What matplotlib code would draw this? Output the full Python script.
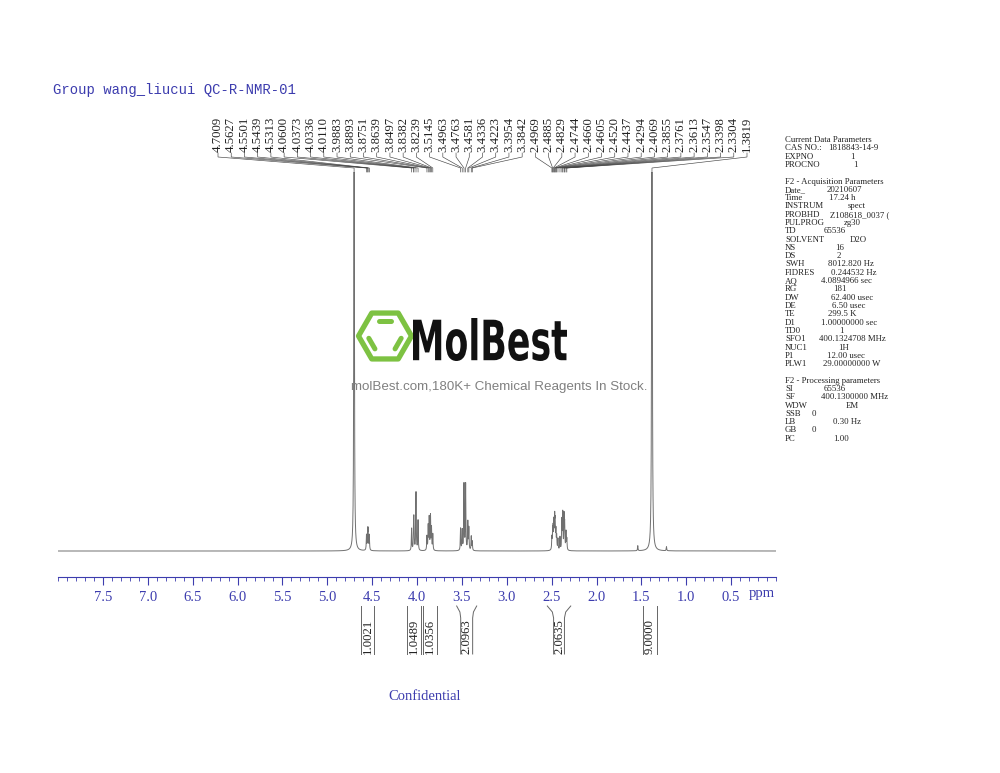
import numpy as np
import matplotlib
matplotlib.use('Agg')
import matplotlib.pyplot as plt
from matplotlib.ticker import MultipleLocator
from matplotlib.textpath import TextPath
from matplotlib.patches import PathPatch, Polygon
from matplotlib.font_manager import FontProperties
from matplotlib.transforms import Affine2D

#--------------------------#
# Data  #
#--------------------------#
peak_shifts = [4.7009, 4.5627, 4.5501, 4.5439, 4.5313, 4.0600, 4.0373, 4.0336,
               4.0110, 3.9883, 3.8893, 3.8751, 3.8639, 3.8497, 3.8382, 3.8239,
               3.5145, 3.4963, 3.4763, 3.4581, 3.4336, 3.4223, 3.3954, 3.3842,
               2.4969, 2.4885, 2.4829, 2.4744, 2.4660, 2.4605, 2.4520, 2.4437,
               2.4294, 2.4069, 2.3855, 2.3761, 2.3613, 2.3547, 2.3398, 2.3304,
               1.3819]
peak_heights = [700, 15, 19, 19, 15, 22, 24, 24,
                58, 30, 14, 24, 32, 34, 22, 16,
                22, 20, 66, 66, 28, 22, 14, 9,
                12, 17, 19, 26, 29, 24, 18, 13,
                11, 13, 29, 36, 33, 24, 18, 11,
                900]
extra_shifts = [1.54, 1.22]
extra_heights = [5, 4]

tick_values = [7.5, 7.0, 6.5, 6.0, 5.5, 5.0, 4.5, 4.0, 3.5, 3.0, 2.5, 2.0, 1.5, 1.0, 0.5]

int_left = [4.62, 4.115, 3.937, 3.558, 2.548, 1.482]
int_right = [4.476, 3.955, 3.780, 3.335, 2.287, 1.329]
int_pinch = [0.0, 0.0, 0.0, 0.045, 0.07, 0.0]
int_labels = ['1.0021', '1.0489', '1.0356', '2.0963', '2.0635', '9.0000']

param_names = ['Current Data Parameters', 'CAS NO.:', 'EXPNO', 'PROCNO', '',
               'F2 - Acquisition Parameters', 'Date_', 'Time', 'INSTRUM', 'PROBHD',
               'PULPROG', 'TD', 'SOLVENT', 'NS', 'DS', 'SWH', 'FIDRES', 'AQ', 'RG',
               'DW', 'DE', 'TE', 'D1', 'TD0', 'SFO1', 'NUC1', 'P1', 'PLW1', '',
               'F2 - Processing parameters', 'SI', 'SF', 'WDW', 'SSB', 'LB', 'GB', 'PC']
param_values = ['', '1818843-14-9', '1', '1', '',
                '', '20210607', '17.24 h', 'spect', 'Z108618_0037 (',
                'zg30', '65536', 'D2O', '16', '2', '8012.820 Hz', '0.244532 Hz',
                '4.0894966 sec', '181', '62.400 usec', '6.50 usec', '299.5 K',
                '1.00000000 sec', '1', '400.1324708 MHz', '1H', '12.00 usec',
                '29.00000000 W', '',
                '', '65536', '400.1300000 MHz', 'EM', '0', '0.30 Hz', '0', '1.00']
# left edge (pixels) of each value column entry
param_x = [0, 828, 850, 853, 0,
           0, 827, 829, 848, 830, 844, 824, 850, 835, 837, 828, 831, 821, 833,
           831, 832, 828, 821, 839, 819, 838, 827, 823, 0,
           0, 824, 821, 846, 812, 833, 812, 833]

BLUE = '#3c3cae'
W, H = 1000, 773

plt.rcParams['font.family'] = ['Liberation Serif', 'DejaVu Serif']

fig = plt.figure(figsize=(W / 100, H / 100), dpi=100)
fig.patch.set_facecolor('white')

# main spectrum axes: x 58..776 px, y 172..577 px
ax_top, ax_bot, base_y = 172, 577, 551
ax = fig.add_axes([58 / W, 1 - ax_bot / H, (776 - 58) / W, (ax_bot - ax_top) / H])
ax.patch.set_alpha(0)

ppm = np.linspace(0, 8, 24001)
gam = 0.003
spec = np.zeros_like(ppm)
for s, h in zip(peak_shifts + extra_shifts, peak_heights + extra_heights):
    spec += h * gam ** 2 / (gam ** 2 + (ppm - s) ** 2)
ax.plot(ppm, spec, color='#707070', lw=0.7)
ax.set_xlim(8.0, 0.0)
ax.set_ylim(-(ax_bot - base_y), base_y - ax_top)

for sp in ['top', 'left', 'right']:
    ax.spines[sp].set_visible(False)
ax.spines['bottom'].set_color(BLUE)
ax.spines['bottom'].set_linewidth(0.8)
ax.set_yticks([])
ax.set_xticks(tick_values)
ax.set_xticklabels(['%.1f' % t for t in tick_values])
ax.xaxis.set_minor_locator(MultipleLocator(0.1))
ax.tick_params(axis='x', which='major', direction='out', length=6, width=0.8,
               color=BLUE, labelcolor=BLUE, labelsize=10.5, pad=4)
ax.tick_params(axis='x', which='minor', direction='out', length=3, width=0.6, color=BLUE)

# overlay axes in pixel coordinates
ov = fig.add_axes([0, 0, 1, 1])
ov.set_xlim(0, W)
ov.set_ylim(H, 0)
ov.axis('off')
ov.patch.set_alpha(0)

def to_px(vals):
    pts = np.column_stack([vals, np.zeros(len(vals))])
    return ov.transData.inverted().transform(ax.transData.transform(pts))[:, 0]

ov.text(762, 594, 'ppm', color=BLUE, fontsize=10.5, ha='center', va='center')

# header and footer
ov.text(53, 90, 'Group wang_liucui QC-R-NMR-01', family='Liberation Mono',
        fontsize=10, color=BLUE, ha='left', va='center')
ov.text(425, 697, 'Confidential', color=BLUE, fontsize=10.5, ha='center', va='center')

# peak labels with leader lines
peak_px = to_px(peak_shifts)
label_px = np.linspace(218, 747, len(peak_shifts))
for lx, px, s in zip(label_px, peak_px, peak_shifts):
    ov.text(lx, 152, '%.4f' % s, rotation=90, fontsize=9.2, color='#222222',
            ha='center', va='bottom')
    ov.plot([lx, lx, px, px], [153, 157, 168, 172], color='#444444', lw=0.45)

# integrals
for a, b, p, lab in zip(int_left, int_right, int_pinch, int_labels):
    xa, xb = to_px([a, b])
    xa2, xb2 = to_px([a - p, b + p])
    ov.plot([xa, (xa + xa2) / 2 + 0.6 * (xa2 - xa) / 2, xa2, xa2], [606, 612, 618, 654],
            color='#666666', lw=0.7)
    ov.plot([xb, (xb + xb2) / 2 + 0.6 * (xb2 - xb) / 2, xb2, xb2], [606, 612, 618, 654],
            color='#666666', lw=0.7)
    xm = to_px([(a + b) / 2])[0]
    ov.text(xm, 654, lab, rotation=90, fontsize=9.2, color='#222222', ha='center', va='bottom')

# parameter panel
for i, (nm, val, vx) in enumerate(zip(param_names, param_values, param_x)):
    y = 140 + i * 8.3
    if nm:
        ov.text(785, y, nm, fontsize=6.3, color='#222222', ha='left', va='center')
    if val:
        ov.text(vx, y, val, fontsize=6.3, color='#222222', ha='left', va='center')

# MolBest watermark logo
GREEN = '#7dc242'
cx, cy, r = 385, 336, 26.5
ang = np.radians(np.arange(0, 360, 60))
hexv = np.column_stack([cx + r * np.cos(ang), cy + r * np.sin(ang)])
ov.add_patch(Polygon(hexv, closed=True, fill=False, edgecolor=GREEN, lw=3.8, joinstyle='round'))
for i0, i1 in [(4, 5), (2, 3), (0, 1)]:
    p0 = cx + 0.66 * (hexv[i0, 0] - cx), cy + 0.66 * (hexv[i0, 1] - cy)
    p1 = cx + 0.66 * (hexv[i1, 0] - cx), cy + 0.66 * (hexv[i1, 1] - cy)
    q0 = (p0[0] * 0.85 + p1[0] * 0.15, p0[1] * 0.85 + p1[1] * 0.15)
    q1 = (p0[0] * 0.15 + p1[0] * 0.85, p0[1] * 0.15 + p1[1] * 0.85)
    ov.plot([q0[0], q1[0]], [q0[1], q1[1]], color=GREEN, lw=3.6, solid_capstyle='round')

tp = TextPath((0, 0), 'MolBest', size=50, prop=FontProperties(family='DejaVu Sans', weight='bold'))
bb = tp.get_extents()
trans = Affine2D().translate(-bb.x0, -bb.y0).scale(154 / bb.width, -43 / bb.height).translate(413, 361)
ov.add_patch(PathPatch(trans.transform_path(tp), facecolor='#111111', edgecolor='none'))
ov.text(499, 387, 'molBest.com,180K+ Chemical Reagents In Stock.', family='Liberation Sans',
        fontsize=9.6, color='#808080', ha='center', va='center')

fig.savefig('out.png', dpi=100)
